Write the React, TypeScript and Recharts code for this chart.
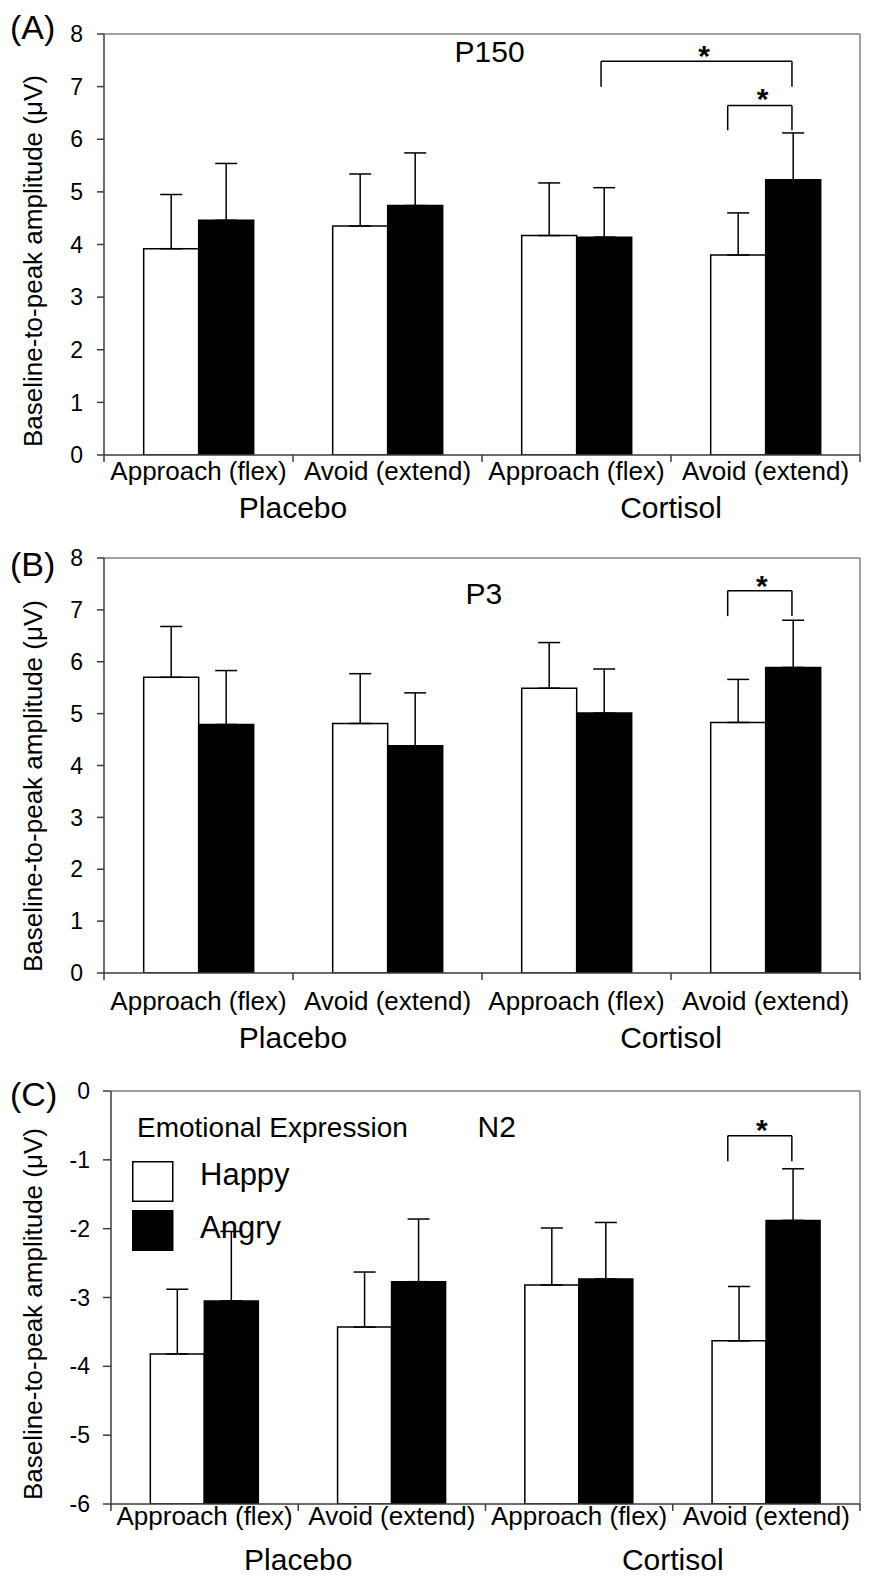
import React from 'react';
import {
  BarChart,
  Bar,
  XAxis,
  YAxis,
  ErrorBar,
  ReferenceLine,
  ReferenceDot,
  Legend,
} from 'recharts';

// categories
const conditions = ['Approach (flex)', 'Avoid (extend)', 'Approach (flex)', 'Avoid (extend)'];
const groups = ['Placebo', 'Cortisol'];
const seriesNames = ['Happy', 'Angry'];

// P150 (µV), mean and SE
const p150Happy = [3.92, 4.35, 4.17, 3.8];
const p150HappyErr = [1.03, 0.99, 1.0, 0.8];
const p150Angry = [4.46, 4.74, 4.14, 5.23];
const p150AngryErr = [1.08, 1.0, 0.94, 0.89];

// P3
const p3Happy = [5.7, 4.81, 5.49, 4.83];
const p3HappyErr = [0.98, 0.96, 0.88, 0.83];
const p3Angry = [4.79, 4.38, 5.01, 5.89];
const p3AngryErr = [1.04, 1.02, 0.85, 0.91];

// N2
const n2Happy = [-3.82, -3.43, -2.82, -3.63];
const n2HappyErr = [0.94, 0.8, 0.83, 0.79];
const n2Angry = [-3.05, -2.77, -2.73, -1.88];
const n2AngryErr = [1.01, 0.91, 0.82, 0.75];

// y ticks
const posTicks = [0, 1, 2, 3, 4, 5, 6, 7, 8];
const negTicks = [-6, -5, -4, -3, -2, -1, 0];

// significance brackets, x in category units (0..4)
const p150Brackets = [
  { x1: 2.63, x2: 3.64, y: 7.48, leg: 7.0 },
  { x1: 3.3, x2: 3.64, y: 6.64, leg: 6.17 },
];
const p150Stars = [
  { x: 3.175, y: 7.72 },
  { x: 3.485, y: 6.9 },
];
const p3Brackets = [{ x1: 3.3, x2: 3.64, y: 7.37, leg: 6.88 }];
const p3Stars = [{ x: 3.48, y: 7.59 }];
const n2Brackets = [{ x1: 3.294, x2: 3.636, y: -0.65, leg: -1.02 }];
const n2Stars = [{ x: 3.476, y: -0.47 }];

const FONT = '"Liberation Sans", Arial, Helvetica, sans-serif';
const AXIS = '#3c3c3c';
const FRAME = '#808080';
const xTicks = [0, 0.5, 1, 1.5, 2, 2.5, 3, 3.5, 4];

function buildRows(happy: number[], happyErr: number[], angry: number[], angryErr: number[], base: number) {
  return conditions.map((c, i) => ({
    key: `${groups[Math.floor(i / 2)]} ${c}`,
    slot: i + 0.5,
    happyBar: [base, happy[i]],
    angryBar: [base, angry[i]],
    happyErr: [0, happyErr[i]],
    angryErr: [0, angryErr[i]],
  }));
}

const BottomTick = (props: any) => {
  const { x, y, payload, catDy, groupDy } = props;
  const v = Number(payload.value);
  if (Number.isInteger(v)) {
    const gi = (v - 1) / 2;
    const group = Number.isInteger(gi) ? groups[gi] : undefined;
    return (
      <g>
        <line x1={x} x2={x} y1={y} y2={y + 7} stroke={AXIS} strokeWidth={1.5} />
        {group && (
          <text x={x} y={y + groupDy} textAnchor="middle" fontSize={30} fill="#000">
            {group}
          </text>
        )}
      </g>
    );
  }
  return (
    <text x={x} y={y + catDy} textAnchor="middle" fontSize={26} fill="#000">
      {conditions[Math.floor(v)]}
    </text>
  );
};

const LegendBox = (props: any) => {
  const items = props.payload || [];
  const ordered = seriesNames.map((n) => items.find((it: any) => it.value === n)).filter(Boolean);
  return (
    <svg width={320} height={150} style={{ display: 'block', fontFamily: FONT, overflow: 'visible' }}>
      <text x={7} y={27} fontSize={28} fill="#000">
        Emotional Expression
      </text>
      {ordered.map((it: any, i: number) => (
        <g key={i}>
          <rect
            x={2.75}
            y={51.75 + i * 49}
            width={40}
            height={39.5}
            fill={it.payload?.fill ?? it.color}
            stroke="#000"
            strokeWidth={1.5}
          />
          <text x={70} y={75 + i * 53} fontSize={31} fill="#000">
            {it.value}
          </text>
        </g>
      ))}
    </svg>
  );
};

interface PanelProps {
  top: number;
  height: number;
  plotTop: number;
  plotLeft: number;
  xAxisHeight: number;
  yTickSize: number;
  yTickMargin: number;
  domain: [number, number];
  ticks: number[];
  rows: any[];
  title: { x: number; y: number; text: string };
  brackets: { x1: number; x2: number; y: number; leg: number }[];
  stars: { x: number; y: number }[];
  letter: string;
  letterY: number;
  ylabelBottom: number;
  catDy: number;
  groupDy: number;
  legend?: boolean;
}

const Panel: React.FC<PanelProps> = (p) => {
  const yMax = p.domain[1];
  return (
    <div style={{ position: 'absolute', left: 0, top: p.top }}>
      <BarChart
        width={875}
        height={p.height}
        data={p.rows}
        margin={{ top: p.plotTop, right: 15, bottom: 0, left: 0 }}
        barCategoryGap="21%"
        barGap={0}
        style={{ fontFamily: FONT }}
      >
        <XAxis
          xAxisId="num"
          dataKey="slot"
          type="number"
          domain={[0, 4]}
          allowDataOverflow
          ticks={xTicks}
          interval={0}
          height={p.xAxisHeight}
          tickSize={0}
          tickMargin={0}
          tickLine={false}
          axisLine={{ stroke: AXIS, strokeWidth: 1.5 }}
          tick={(tp: any) => <BottomTick {...tp} catDy={p.catDy} groupDy={p.groupDy} />}
        />
        <XAxis xAxisId="cat" dataKey="key" hide height={0} />
        <YAxis
          width={p.plotLeft}
          domain={p.domain}
          allowDataOverflow
          ticks={p.ticks}
          interval={0}
          tickSize={p.yTickSize}
          tickMargin={p.yTickMargin}
          axisLine={{ stroke: AXIS, strokeWidth: 1.5 }}
          tickLine={{ stroke: AXIS, strokeWidth: 1.5 }}
          tick={{ fill: '#000', fontSize: 23 }}
          label={{
            content: () => (
              <g>
                <text x={10} y={p.letterY} fontSize={34} fill="#000">
                  {p.letter}
                </text>
                <text
                  x={42}
                  y={p.ylabelBottom}
                  transform={`rotate(-90 42 ${p.ylabelBottom})`}
                  fontSize={26}
                  fill="#000"
                >
                  Baseline-to-peak amplitude (μV)
                </text>
              </g>
            ),
          }}
        />
        <ReferenceLine xAxisId="num" y={yMax} stroke={FRAME} strokeWidth={1.5} />
        <ReferenceLine xAxisId="num" x={4} stroke={FRAME} strokeWidth={1.5} />
        <Bar
          xAxisId="cat"
          dataKey="happyBar"
          name={seriesNames[0]}
          fill="#ffffff"
          stroke="#000"
          strokeWidth={1.5}
          isAnimationActive={false}
        >
          <ErrorBar dataKey="happyErr" direction="y" width={11} stroke="#000" strokeWidth={1.5} isAnimationActive={false} />
        </Bar>
        <Bar
          xAxisId="cat"
          dataKey="angryBar"
          name={seriesNames[1]}
          fill="#000000"
          stroke="#000"
          strokeWidth={1.5}
          isAnimationActive={false}
        >
          <ErrorBar dataKey="angryErr" direction="y" width={11} stroke="#000" strokeWidth={1.5} isAnimationActive={false} />
        </Bar>
        {p.brackets.map((b, i) => [
          <ReferenceLine
            key={`bt${i}`}
            xAxisId="num"
            segment={[{ x: b.x1, y: b.y }, { x: b.x2, y: b.y }]}
            stroke="#000"
            strokeWidth={1.5}
          />,
          <ReferenceLine
            key={`bl${i}`}
            xAxisId="num"
            segment={[{ x: b.x1, y: b.y }, { x: b.x1, y: b.leg }]}
            stroke="#000"
            strokeWidth={1.5}
          />,
          <ReferenceLine
            key={`br${i}`}
            xAxisId="num"
            segment={[{ x: b.x2, y: b.y }, { x: b.x2, y: b.leg }]}
            stroke="#000"
            strokeWidth={1.5}
          />,
        ])}
        {p.stars.map((s, i) => (
          <ReferenceDot
            key={`s${i}`}
            xAxisId="num"
            x={s.x}
            y={s.y}
            r={0}
            shape={(sp: any) => (
              <text x={sp.cx} y={sp.cy + 17} textAnchor="middle" fontSize={30} fontWeight="bold" fill="#000">
                *
              </text>
            )}
          />
        ))}
        <ReferenceDot
          xAxisId="num"
          x={p.title.x}
          y={p.title.y}
          r={0}
          shape={(sp: any) => (
            <text x={sp.cx} y={sp.cy} textAnchor="middle" fontSize={30} fill="#000">
              {p.title.text}
            </text>
          )}
        />
        {p.legend && (
          <Legend
            layout="vertical"
            align="center"
            verticalAlign="middle"
            content={<LegendBox />}
            wrapperStyle={{ top: 60, left: 130, width: 320, height: 150 }}
          />
        )}
      </BarChart>
    </div>
  );
};

export default function App() {
  const rowsA = buildRows(p150Happy, p150HappyErr, p150Angry, p150AngryErr, 0);
  const rowsB = buildRows(p3Happy, p3HappyErr, p3Angry, p3AngryErr, 0);
  const rowsC = buildRows(n2Happy, n2HappyErr, n2Angry, n2AngryErr, -6);
  return (
    <div style={{ position: 'absolute', left: 0, top: 0, width: 875, height: 1584, background: '#fff', fontFamily: FONT }}>
      <Panel
        top={0}
        height={540}
        plotTop={34}
        plotLeft={104}
        xAxisHeight={85}
        yTickSize={7}
        yTickMargin={14}
        domain={[0, 8]}
        ticks={posTicks}
        rows={rowsA}
        title={{ x: 2.04, y: 7.46, text: 'P150' }}
        brackets={p150Brackets}
        stars={p150Stars}
        letter="(A)"
        letterY={39}
        ylabelBottom={447}
        catDy={25}
        groupDy={63}
      />
      <Panel
        top={520}
        height={545}
        plotTop={38}
        plotLeft={104}
        xAxisHeight={92}
        yTickSize={7}
        yTickMargin={14}
        domain={[0, 8]}
        ticks={posTicks}
        rows={rowsB}
        title={{ x: 2.01, y: 7.12, text: 'P3' }}
        brackets={p3Brackets}
        stars={p3Stars}
        letter="(B)"
        letterY={56}
        ylabelBottom={452}
        catDy={37}
        groupDy={75}
      />
      <Panel
        top={1050}
        height={534}
        plotTop={41}
        plotLeft={111}
        xAxisHeight={80}
        yTickSize={8}
        yTickMargin={13}
        domain={[-6, 0]}
        ticks={negTicks}
        rows={rowsC}
        title={{ x: 2.06, y: -0.67, text: 'N2' }}
        brackets={n2Brackets}
        stars={n2Stars}
        letter="(C)"
        letterY={56}
        ylabelBottom={450}
        catDy={21}
        groupDy={66}
        legend
      />
    </div>
  );
}
